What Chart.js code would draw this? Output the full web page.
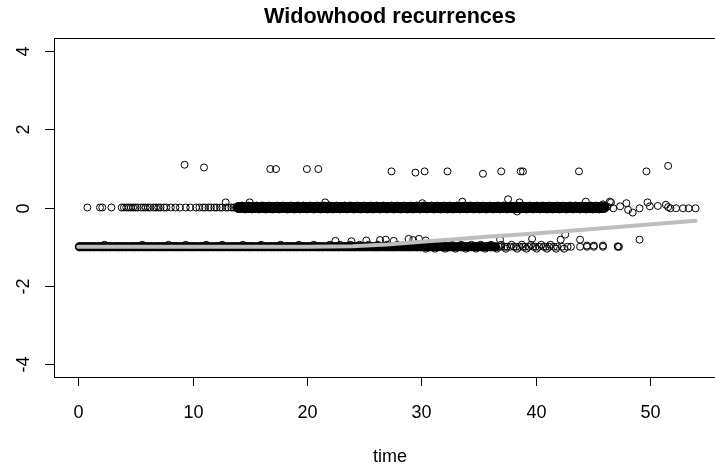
<!DOCTYPE html>
<html>
<head>
<meta charset="utf-8">
<script src="https://cdn.jsdelivr.net/npm/chart.js@4.4.0/dist/chart.umd.min.js"></script>
<style>
  html, body { margin: 0; padding: 0; background: #fff; }
</style>
</head>
<body>
<canvas id="graficoViudez" width="715" height="467"></canvas>
<script>
// ticks de los ejes
const ticksX = [0, 10, 20, 30, 40, 50];
const ticksY = [-4, -2, 0, 2, 4];

// fila de puntos en y = 0 (tramo suelto a la izquierda)
const nivelCero = 0;
const filaCeroX = [0.8, 1.9, 2.1, 2.9, 3.8, 4.0, 4.2, 4.4, 4.6, 4.8, 5.0, 5.2, 5.5, 5.7, 5.9, 6.1, 6.3, 6.6, 6.8, 7.0, 7.2, 7.5, 7.7,
  8.1, 8.5, 8.9, 9.4, 9.8, 10.3, 10.6, 10.9, 11.1, 11.4, 11.6, 11.9, 12.1, 12.4, 12.6, 12.9, 13.1, 13.4, 13.6, 13.8];
// fila de puntos en y = 0 (tramo muy denso)
const filaCeroDensaX = [14.0, 14.1, 14.3, 14.5, 14.6, 14.8, 14.9, 15.1, 15.2, 15.4, 15.5, 15.7, 15.9, 16.0, 16.2, 16.3, 16.5, 16.6, 16.8, 16.9,
  17.1, 17.2, 17.4, 17.6, 17.7, 17.9, 18.0, 18.2, 18.3, 18.5, 18.7, 18.8, 19.0, 19.1, 19.3, 19.4, 19.6, 19.8, 19.9,
  20.1, 20.2, 20.4, 20.5, 20.7, 20.8, 21.0, 21.2, 21.3, 21.5, 21.6, 21.8, 21.9, 22.1, 22.2, 22.4, 22.6, 22.7, 22.9,
  23.0, 23.2, 23.3, 23.5, 23.7, 23.8, 24.0, 24.1, 24.3, 24.4, 24.6, 24.7, 24.9, 25.1, 25.2, 25.4, 25.5, 25.7, 25.8,
  26.0, 26.2, 26.3, 26.5, 26.6, 26.8, 26.9, 27.1, 27.2, 27.4, 27.6, 27.7, 27.9, 28.0, 28.2, 28.3, 28.5, 28.7, 28.8,
  29.0, 29.1, 29.3, 29.4, 29.6, 29.8, 29.9, 30.1, 30.2, 30.4, 30.5, 30.7, 30.8, 31.0, 31.2, 31.3, 31.5, 31.6, 31.8, 31.9,
  32.1, 32.2, 32.4, 32.6, 32.7, 32.9, 33.0, 33.2, 33.3, 33.5, 33.7, 33.8, 34.0, 34.1, 34.3, 34.4, 34.6, 34.7, 34.9,
  35.1, 35.2, 35.4, 35.5, 35.7, 35.8, 36.0, 36.2, 36.3, 36.5, 36.6, 36.8, 36.9, 37.1, 37.2, 37.4, 37.6, 37.7, 37.9,
  38.0, 38.2, 38.3, 38.5, 38.7, 38.8, 39.0, 39.1, 39.3, 39.4, 39.6, 39.8, 39.9, 40.1, 40.2, 40.4, 40.5, 40.7, 40.8,
  41.0, 41.2, 41.3, 41.5, 41.6, 41.8, 41.9, 42.1, 42.2, 42.4, 42.6, 42.7, 42.9, 43.0, 43.2, 43.3, 43.5, 43.7, 43.8,
  44.0, 44.1, 44.3, 44.4, 44.6, 44.7, 44.9, 45.1, 45.2, 45.4, 45.5, 45.7, 45.8, 46.0];
// bordes de la banda en y = 0
const nivelCeroArriba = 0.05;
const filaCeroArribaX = [14.3, 14.9, 15.6, 16.1, 16.7, 17.4, 17.9, 18.6, 19.2, 19.7, 20.3, 20.9, 21.5, 22.0, 22.6, 23.3, 23.8, 24.4, 25.0, 25.6, 26.1, 26.7, 27.4, 27.9, 28.5, 29.1, 29.6, 30.2, 30.9, 31.4, 32.0, 32.5, 33.1, 33.8, 34.3, 34.9, 35.4, 36.0, 36.7, 37.2, 37.8, 38.4, 38.9, 39.5, 40.1, 40.6, 41.2, 41.9, 42.4, 43.0, 43.5, 44.1, 44.8, 45.3, 45.9];
const nivelCeroAbajo = -0.05;
const filaCeroAbajoX = [14.6, 15.2, 15.8, 16.4, 17.0, 17.6, 18.3, 18.9, 19.4, 20.0, 20.6, 21.2, 21.8, 22.3, 22.9, 23.5, 24.1, 24.7, 25.3, 25.8, 26.4, 27.0, 27.6, 28.2, 28.8, 29.3, 29.9, 30.5, 31.1, 31.7, 32.3, 32.8, 33.4, 34.0, 34.6, 35.1, 35.7, 36.3, 36.9, 37.5, 38.1, 38.6, 39.2, 39.8, 40.4, 41.0, 41.5, 42.1, 42.7, 43.3, 43.9, 44.4, 45.0, 45.6];

// fila de puntos en y = -1 (tramo muy denso)
const nivelMenosUno = -1;
const filaMenosUnoDensaX = [0.1, 0.2, 0.4, 0.5, 0.7, 0.8, 1.0, 1.1, 1.3, 1.4, 1.6, 1.8, 1.9, 2.1, 2.2, 2.4, 2.5, 2.7, 2.8,
  3.0, 3.2, 3.3, 3.5, 3.6, 3.8, 3.9, 4.1, 4.2, 4.4, 4.6, 4.7, 4.9, 5.0, 5.2, 5.3, 5.5, 5.7, 5.8,
  6.0, 6.1, 6.3, 6.4, 6.6, 6.8, 6.9, 7.1, 7.2, 7.4, 7.5, 7.7, 7.8, 8.0, 8.2, 8.3, 8.5, 8.6, 8.8, 8.9,
  9.1, 9.2, 9.4, 9.6, 9.7, 9.9, 10.0, 10.2, 10.3, 10.5, 10.7, 10.8, 11.0, 11.1, 11.3, 11.4, 11.6, 11.8, 11.9,
  12.1, 12.2, 12.4, 12.5, 12.7, 12.8, 13.0, 13.2, 13.3, 13.5, 13.6, 13.8, 13.9, 14.1, 14.2, 14.4, 14.6, 14.7, 14.9,
  15.0, 15.2, 15.3, 15.5, 15.7, 15.8, 16.0, 16.1, 16.3, 16.4, 16.6, 16.8, 16.9, 17.1, 17.2, 17.4, 17.5, 17.7, 17.8,
  18.0, 18.2, 18.3, 18.5, 18.6, 18.8, 18.9, 19.1, 19.2, 19.4, 19.6, 19.7, 19.9, 20.0, 20.2, 20.3, 20.5, 20.7, 20.8,
  21.0, 21.1, 21.3, 21.4, 21.6, 21.8, 21.9, 22.1, 22.2, 22.4, 22.5, 22.7, 22.8, 23.0, 23.2, 23.3, 23.5, 23.6, 23.8, 23.9,
  24.1, 24.2, 24.4, 24.6, 24.7, 24.9, 25.0, 25.2, 25.3, 25.5, 25.7, 25.8, 26.0, 26.1, 26.3, 26.4, 26.6, 26.8, 26.9,
  27.1, 27.2, 27.4, 27.5, 27.7, 27.8, 28.0, 28.2, 28.3, 28.5, 28.6, 28.8, 28.9, 29.1, 29.2, 29.4, 29.6, 29.7, 29.9,
  30.0, 30.2, 30.3, 30.5, 30.7, 30.8, 31.0, 31.1, 31.3, 31.4, 31.6, 31.8, 31.9, 32.1, 32.2, 32.4, 32.5, 32.7, 32.8,
  33.0, 33.2, 33.3, 33.5, 33.6, 33.8, 33.9, 34.1, 34.2, 34.4, 34.6, 34.7, 34.9, 35.0, 35.2, 35.3, 35.5, 35.7, 35.8,
  36.0, 36.1, 36.3, 36.5];
// fila de puntos en y = -1 (tramo suelto a la derecha)
const filaMenosUnoX = [36.8, 37.0, 37.3, 37.5, 37.8, 38.1, 38.3, 38.6, 38.9, 39.1, 39.4, 39.8, 40.0, 40.3, 40.7, 40.9,
  41.2, 41.6, 41.9, 42.3, 42.8, 43.1, 43.9, 44.5, 45.1, 45.9, 47.2, 47.3];
// bordes de la banda en y = -1
const nivelMenosUnoArriba = -0.95;
const filaMenosUnoArribaX = [2.3, 5.6, 7.9, 9.4, 11.2, 12.6, 14.4, 16.0, 17.7, 19.3, 20.6, 22.0, 22.9, 23.8, 24.6, 25.4, 26.2, 27.0, 27.9, 28.6, 29.4, 30.2, 31.0, 31.9, 32.7, 33.5, 34.4, 35.2, 36.1, 37.0, 37.9, 38.8, 39.6, 40.5, 41.3];
const nivelMenosUnoAbajo = -1.05;
const filaMenosUnoAbajoX = [30.4, 31.2, 32.1, 33.0, 33.9, 34.8, 35.6, 36.6, 37.4, 38.4, 39.2, 40.1, 41.0, 41.8, 42.5];

// puntos sueltos (fuera de las filas)
const sueltosX = [9.3, 11.0, 16.8, 17.3, 20.0, 21.0, 27.4, 29.5, 30.3, 32.3, 35.4, 37.0, 38.7, 38.9, 43.8, 49.7, 51.6,
  12.9, 15.0, 21.6, 30.1, 33.6, 37.6, 38.6, 44.4, 46.6, 38.4, 45.9, 46.3,
  46.5, 46.8, 47.4, 47.95, 48.1, 48.5, 49.1, 49.8, 50.0, 50.7, 51.4, 51.6, 51.8, 52.3, 52.9, 53.4, 54.0,
  22.5, 23.9, 25.2, 26.4, 26.9, 27.6, 28.9, 29.3, 29.8, 30.4, 36.9, 39.7, 42.2, 42.6, 43.9, 44.5, 45.1, 45.9, 47.2, 49.1];
const sueltosY = [1.09, 1.02, 0.98, 0.98, 0.98, 0.98, 0.92, 0.89, 0.92, 0.92, 0.86, 0.92, 0.92, 0.92, 0.92, 0.92, 1.06,
  0.13, 0.13, 0.13, 0.11, 0.15, 0.21, 0.13, 0.15, 0.13, -0.1, 0.08, 0.02,
  0.15, -0.02, 0.03, 0.11, -0.06, -0.13, -0.02, 0.13, 0.03, 0.04, 0.07, 0.01, -0.02, -0.02, -0.02, -0.02, -0.02,
  -0.85, -0.86, -0.84, -0.83, -0.82, -0.85, -0.8, -0.83, -0.8, -0.84, -0.82, -0.8, -0.82, -0.69, -0.82, -0.97, -0.97, -0.97, -0.99, -0.82];

// curva suavizada gris
const curvaX = [0, 5, 10, 15, 20, 24, 27, 30, 33, 36, 39, 42, 45, 48, 51, 54];
const curvaY = [-1, -1, -1, -1, -1, -0.99, -0.94, -0.87, -0.81, -0.74, -0.68, -0.62, -0.55, -0.48, -0.41, -0.34];

const fuente = '"Liberation Sans", Arial, sans-serif';

function fila(xs, nivel) {
  return xs.map(v => ({ x: v, y: nivel }));
}

const puntosCeroDensos = fila(filaCeroDensaX, nivelCero);
const puntosMenosUnoDensos = fila(filaMenosUnoDensaX, nivelMenosUno);

const puntos = []
  .concat(fila(filaCeroX, nivelCero))
  .concat(fila(filaCeroArribaX, nivelCeroArriba))
  .concat(fila(filaCeroAbajoX, nivelCeroAbajo))
  .concat(fila(filaMenosUnoX, nivelMenosUno))
  .concat(fila(filaMenosUnoArribaX, nivelMenosUnoArriba))
  .concat(fila(filaMenosUnoAbajoX, nivelMenosUnoAbajo))
  .concat(sueltosX.map((v, i) => ({ x: v, y: sueltosY[i] })));

const curva = curvaX.map((v, i) => ({ x: v, y: curvaY[i] }));

// ejes al estilo de R base
const ejesR = {
  id: 'ejesR',
  afterDraw(chart) {
    const ctx = chart.ctx;
    const a = chart.chartArea;
    const escX = chart.scales.x;
    const escY = chart.scales.y;
    ctx.save();
    ctx.strokeStyle = '#000';
    ctx.lineWidth = 1;
    // caja (el lado derecho queda fuera del lienzo)
    ctx.strokeRect(Math.round(a.left) + 0.5, Math.round(a.top) + 0.5, a.right - a.left + 30, Math.round(a.bottom - a.top));

    ctx.fillStyle = '#000';
    ctx.font = '18px ' + fuente;
    ctx.textAlign = 'center';
    ctx.textBaseline = 'alphabetic';

    ticksX.forEach(v => {
      const px = Math.round(escX.getPixelForValue(v)) + 0.5;
      ctx.beginPath();
      ctx.moveTo(px, Math.round(a.bottom) + 0.5);
      ctx.lineTo(px, Math.round(a.bottom) + 9);
      ctx.stroke();
      ctx.fillText(String(v), px, 418);
    });

    ticksY.forEach(v => {
      const py = Math.round(escY.getPixelForValue(v)) + 0.5;
      ctx.beginPath();
      ctx.moveTo(Math.round(a.left) + 0.5, py);
      ctx.lineTo(Math.round(a.left) - 9, py);
      ctx.stroke();
      ctx.save();
      ctx.translate(28.5, py);
      ctx.rotate(-Math.PI / 2);
      ctx.fillText(String(v), 0, 0);
      ctx.restore();
    });

    const centro = 390;
    ctx.fillText('time', centro, 462);
    ctx.font = 'bold 21.6px ' + fuente;
    ctx.fillText('Widowhood recurrences', centro, 23);
    ctx.restore();
  }
};

function circulos(datos, radio, grosor, orden) {
  return {
    data: datos,
    pointStyle: 'circle',
    pointRadius: radio,
    pointBorderWidth: grosor,
    pointBorderColor: '#000',
    pointBackgroundColor: 'rgba(0,0,0,0)',
    borderColor: '#000',
    backgroundColor: 'rgba(0,0,0,0)',
    order: orden,
  };
}

new Chart(document.getElementById('graficoViudez'), {
  type: 'scatter',
  data: {
    datasets: [
      {
        label: 'curva',
        data: curva,
        showLine: true,
        borderColor: '#bebebe',
        borderWidth: 4,
        borderCapStyle: 'round',
        pointRadius: 0,
        tension: 0,
        order: 0,
      },
      circulos(puntos, 3.5, 1, 1),
      circulos(puntosCeroDensos, 3.4, 4, 2),
      circulos(puntosMenosUnoDensos, 3.0, 3.2, 3),
    ],
  },
  options: {
    responsive: false,
    animation: false,
    layout: { padding: { left: 54, top: 38, right: 0, bottom: 90 } },
    plugins: {
      legend: { display: false },
      tooltip: { enabled: false },
    },
    scales: {
      x: { type: 'linear', display: false, min: -2.12, max: 55.0 },
      y: { type: 'linear', display: false, min: -4.32, max: 4.32 },
    },
  },
  plugins: [ejesR],
});
</script>
</body>
</html>
